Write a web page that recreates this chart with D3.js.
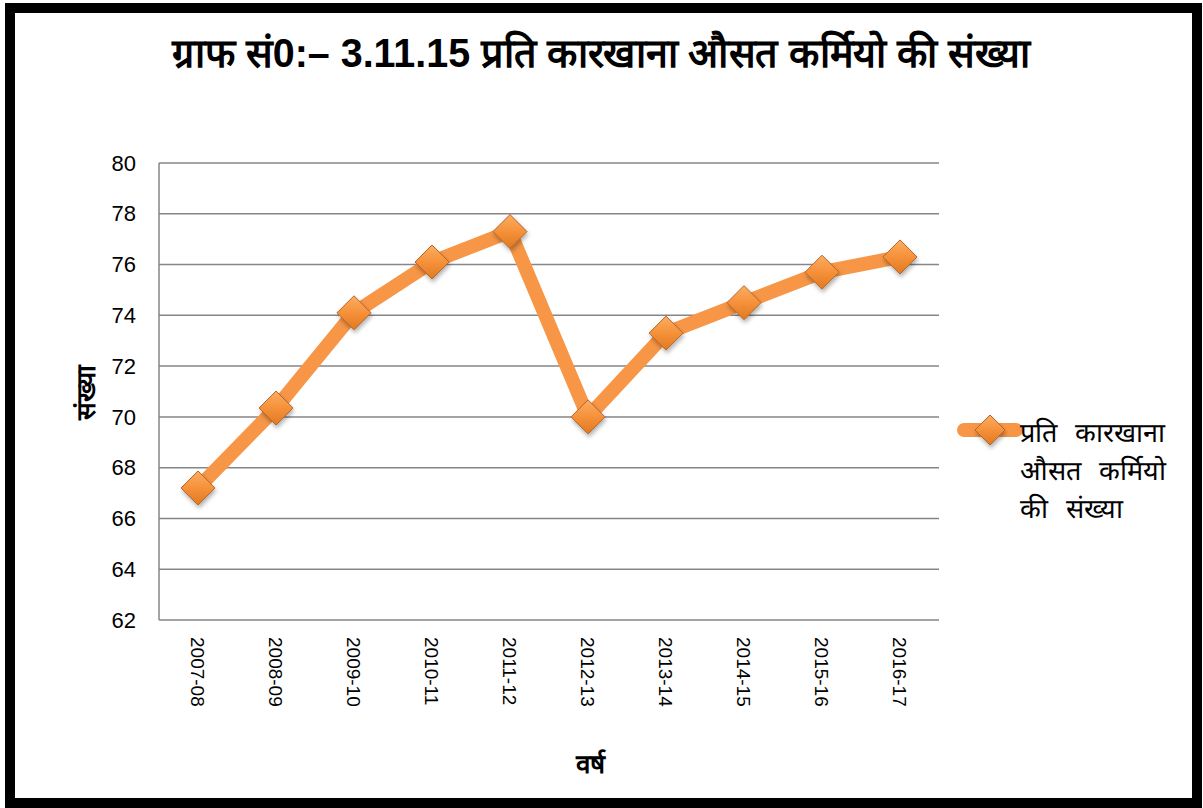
<!DOCTYPE html>
<html>
<head>
<meta charset="utf-8">
<script src="https://cdn.jsdelivr.net/npm/d3@7"></script>
<style>
body { margin: 0; background: #fff; }
text { font-family: "Liberation Sans", Arial, sans-serif; }
</style>
</head>
<body>
<div class="chart"></div>
<script>
var width = 1203, height = 808;

// data
var years = ["2007-08","2008-09","2009-10","2010-11","2011-12","2012-13","2013-14","2014-15","2015-16","2016-17"];
var workers = [67.2, 70.35, 74.1, 76.1, 77.3, 70.0, 73.3, 74.5, 75.7, 76.3];
var yTicks = [62, 64, 66, 68, 70, 72, 74, 76, 78, 80];
var titleText = "ग्राफ सं0:– 3.11.15 प्रति कारखाना औसत कर्मियो की संख्या";
var legendLines = ["प्रति कारखाना", "औसत कर्मियो", "की संख्या"];

var margin = {left: 159, right: 264, top: 163, bottom: 188};

var svg = d3.select(".chart").append("svg")
	.attr("width", width)
	.attr("height", height);

var defs = svg.append("defs");
var grad = defs.append("linearGradient")
	.attr("id", "dia")
	.attr("x1", 0).attr("y1", 0).attr("x2", 0).attr("y2", 1);
grad.append("stop").attr("offset", "0%").attr("stop-color", "#fbad62");
grad.append("stop").attr("offset", "50%").attr("stop-color", "#f6913a");
grad.append("stop").attr("offset", "100%").attr("stop-color", "#df7a22");
var shadow = defs.append("filter").attr("id", "sh")
	.attr("x", "-50%").attr("y", "-50%").attr("width", "200%").attr("height", "200%");
shadow.append("feDropShadow").attr("dx", 1).attr("dy", 3).attr("stdDeviation", 2)
	.attr("flood-color", "#000").attr("flood-opacity", 0.3);

// frame
svg.append("rect")
	.attr("x", 10).attr("y", 8)
	.attr("width", 1187).attr("height", 795)
	.attr("fill", "none")
	.attr("stroke", "#000")
	.attr("stroke-width", 10);

var x = d3.scaleBand()
	.domain(years)
	.range([margin.left, width - margin.right]);

var y = d3.scaleLinear()
	.domain([62, 80])
	.range([height - margin.bottom, margin.top]);

// gridlines
svg.append("g").selectAll("line")
	.data(yTicks)
	.enter().append("line")
		.attr("x1", margin.left)
		.attr("x2", width - margin.right)
		.attr("y1", function(d){ return y(d); })
		.attr("y2", function(d){ return y(d); })
		.attr("stroke", "#868686")
		.attr("stroke-width", 1.5);

// left axis line
svg.append("line")
	.attr("x1", margin.left).attr("x2", margin.left)
	.attr("y1", margin.top).attr("y2", height - margin.bottom)
	.attr("stroke", "#868686")
	.attr("stroke-width", 1.5);

// y tick labels
svg.append("g").selectAll("text")
	.data(yTicks)
	.enter().append("text")
		.attr("x", 136)
		.attr("y", function(d){ return y(d); })
		.attr("dy", "0.35em")
		.attr("text-anchor", "end")
		.attr("font-size", 22)
		.attr("font-family", "'Open Sans', 'Liberation Sans', sans-serif")
		.text(function(d){ return d; });

// x tick labels, rotated
svg.append("g").selectAll("text")
	.data(years)
	.enter().append("text")
		.attr("transform", function(d){
			return "translate(" + (x(d) + x.bandwidth()/2) + "," + 637 + ") rotate(90)";
		})
		.attr("dy", "0.35em")
		.attr("font-size", 19)
		.text(function(d){ return d; });

// series line
var line = d3.line()
	.x(function(d, i){ return x(years[i]) + x.bandwidth()/2; })
	.y(function(d){ return y(d); });

svg.append("path")
	.datum(workers)
	.attr("d", line)
	.attr("fill", "none")
	.attr("stroke", "#f79646")
	.attr("stroke-width", 14)
	.attr("stroke-linejoin", "round")
	.attr("stroke-linecap", "round");

function diamond(sel, s) {
	sel.attr("d", "M0," + (-s) + "L" + s + ",0L0," + s + "L" + (-s) + ",0Z")
		.attr("fill", "url(#dia)")
		.attr("stroke", "#b8662a")
		.attr("stroke-width", 1)
		.attr("filter", "url(#sh)");
}

svg.append("g").selectAll("path")
	.data(workers)
	.enter().append("path")
		.attr("transform", function(d, i){
			return "translate(" + (x(years[i]) + x.bandwidth()/2) + "," + y(d) + ")";
		})
		.call(diamond, 17);

// title
svg.append("text")
	.attr("x", 601)
	.attr("y", 67)
	.attr("text-anchor", "middle")
	.attr("font-size", 40)
	.attr("font-weight", "bold")
	.attr("textLength", 858)
	.attr("lengthAdjust", "spacingAndGlyphs")
	.attr("font-family", "'Liberation Sans Narrow', 'Liberation Sans', sans-serif")
	.text(titleText);

// axis titles
svg.append("text")
	.attr("transform", "translate(95,392) rotate(-90)")
	.attr("text-anchor", "middle")
	.attr("font-size", 26)
	.attr("font-weight", "bold")
	.text("संख्या");

svg.append("text")
	.attr("x", 590)
	.attr("y", 773)
	.attr("text-anchor", "middle")
	.attr("font-size", 26)
	.attr("font-weight", "bold")
	.text("वर्ष");

// legend
var leg = svg.append("g").attr("transform", "translate(0,430)");
leg.append("line")
	.attr("x1", 964).attr("x2", 1016)
	.attr("y1", 0).attr("y2", 0)
	.attr("stroke", "#f79646")
	.attr("stroke-width", 14)
	.attr("stroke-linecap", "round");
leg.append("path")
	.attr("transform", "translate(990,0)")
	.call(diamond, 15);
leg.selectAll("text")
	.data(legendLines)
	.enter().append("text")
		.attr("x", 1020)
		.attr("y", function(d, i){ return 12 + i * 38; })
		.attr("font-size", 27)
		.attr("word-spacing", 10)
		.text(function(d){ return d; });
</script>
</body>
</html>
